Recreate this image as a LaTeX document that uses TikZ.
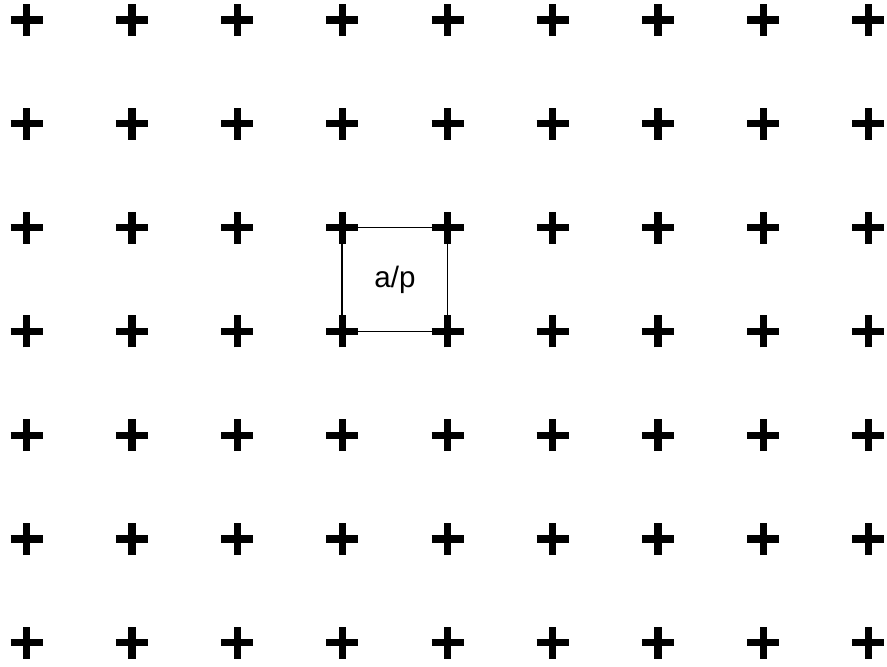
\documentclass[tikz,border=0pt]{standalone}
\usepackage{fontspec}
\setmainfont{Liberation Sans}
\usetikzlibrary{positioning}

\begin{document}
\begin{tikzpicture}[
x=0.025cm,
y=-0.025cm,
every node/.style={font=\fontsize{21}{25}\selectfont},
plussign/.style={line width=0.18cm},
cell/.style={rectangle,draw,line width=0.045cm,minimum width=2.63cm,minimum height=2.595cm,inner sep=0pt}
]
\useasboundingbox (0,0) rectangle (887,666);
\foreach \i in {0,...,8}{
  \foreach \j in {0,...,6}{
    \coordinate (p\i\j) at ({26.7+105.2*\i},{20+103.8*\j});
    \draw[plussign] ([xshift=-0.4cm]p\i\j) -- ([xshift=0.4cm]p\i\j)
                    ([yshift=-0.4cm]p\i\j) -- ([yshift=0.4cm]p\i\j);
  }
}
\node[cell] (ap) at (394.9,279.5) {a/p};
\end{tikzpicture}
\end{document}
